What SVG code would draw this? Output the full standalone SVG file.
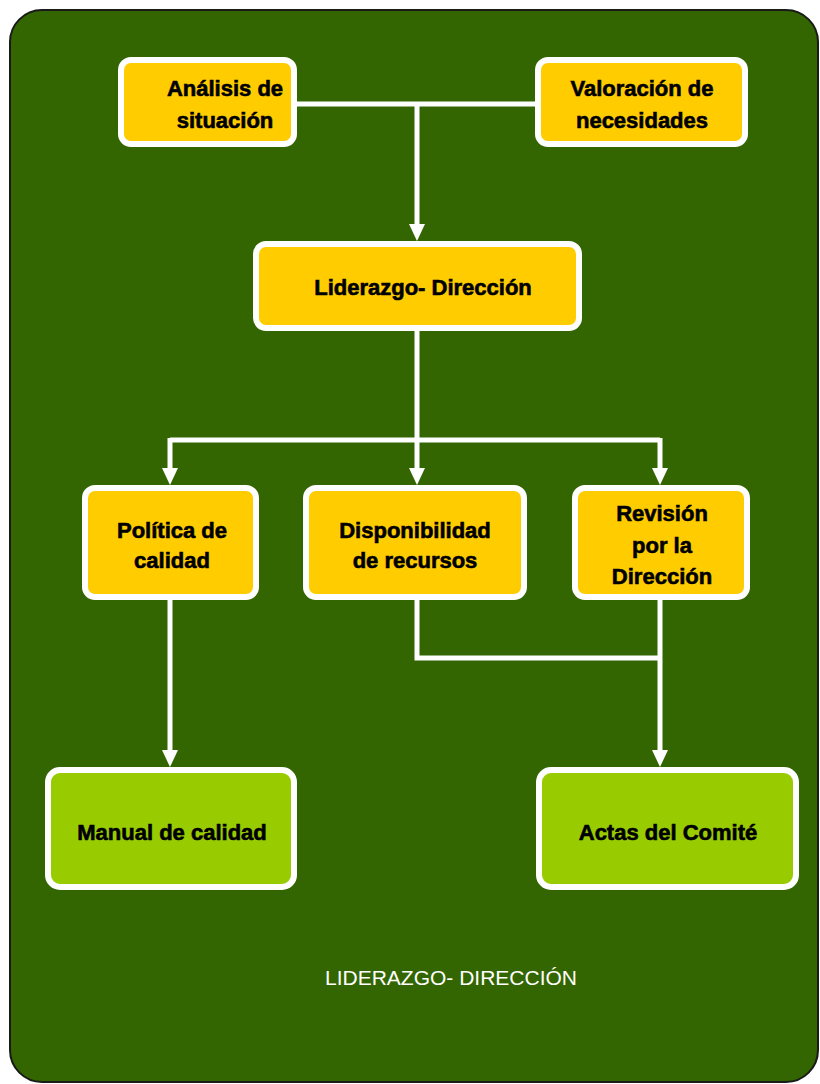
<svg xmlns="http://www.w3.org/2000/svg" width="820" height="1084" viewBox="0 0 820 1084">
<style>
.yel{fill:#FFCC00;stroke:#FFFFFF;stroke-width:6}
.grn{fill:#99CC00;stroke:#FFFFFF;stroke-width:6}
.lbl{font-family:"Liberation Sans",Arial,sans-serif;font-weight:bold;font-size:22px;fill:#000;stroke:#000;stroke-width:0.6;text-anchor:middle}
.con{fill:none;stroke:#FFFFFF;stroke-width:5}
</style>
<defs>
<marker id="ah" markerWidth="18" markerHeight="18" refX="10" refY="9" orient="auto" markerUnits="userSpaceOnUse">
<path d="M0,1 L17,9 L0,17 z" fill="#FFFFFF"/>
</marker>
</defs>
<rect x="10" y="10" width="808" height="1072" rx="32" ry="32" fill="#336600" stroke="#1a1a1a" stroke-width="2"/>
<g id="connectors">
<path class="con" d="M297,104 L535,104"/>
<path class="con" d="M417,104 L417,234" marker-end="url(#ah)"/>
<path class="con" d="M417,331 L417,440"/>
<path class="con" d="M170,440 L660,440"/>
<path class="con" d="M170,438 L170,478" marker-end="url(#ah)"/>
<path class="con" d="M417,440 L417,478" marker-end="url(#ah)"/>
<path class="con" d="M660,438 L660,478" marker-end="url(#ah)"/>
<path class="con" d="M170,600 L170,760" marker-end="url(#ah)"/>
<path class="con" d="M417,600 L417,658 L660,658"/>
<path class="con" d="M660,600 L660,760" marker-end="url(#ah)"/>
</g>
<g id="analisis">
<rect class="yel" x="121" y="60" width="173" height="84" rx="10"/>
<text class="lbl" x="225" y="96">Análisis de</text>
<text class="lbl" x="225" y="128">situación</text>
</g>
<g id="valoracion">
<rect class="yel" x="538" y="60" width="207" height="84" rx="10"/>
<text class="lbl" x="642" y="96">Valoración de</text>
<text class="lbl" x="642" y="128">necesidades</text>
</g>
<g id="liderazgo">
<rect class="yel" x="256" y="244" width="323" height="84" rx="10"/>
<text class="lbl" x="423" y="295">Liderazgo- Dirección</text>
</g>
<g id="politica">
<rect class="yel" x="85" y="488" width="171" height="109" rx="10"/>
<text class="lbl" x="172" y="538">Política de</text>
<text class="lbl" x="172" y="568">calidad</text>
</g>
<g id="disponibilidad">
<rect class="yel" x="306" y="488" width="218" height="109" rx="10"/>
<text class="lbl" x="415" y="538">Disponibilidad</text>
<text class="lbl" x="415" y="568">de recursos</text>
</g>
<g id="revision">
<rect class="yel" x="575" y="488" width="172" height="109" rx="10"/>
<text class="lbl" x="662" y="521">Revisión</text>
<text class="lbl" x="662" y="553">por la</text>
<text class="lbl" x="662" y="584">Dirección</text>
</g>
<g id="manual">
<rect class="grn" x="48" y="770" width="246" height="117" rx="12"/>
<text class="lbl" x="172" y="840">Manual de calidad</text>
</g>
<g id="actas">
<rect class="grn" x="539" y="770" width="257" height="117" rx="12"/>
<text class="lbl" x="668" y="840">Actas del Comité</text>
</g>
<text x="451" y="985" font-family="Liberation Sans,Arial,sans-serif" font-size="21" fill="#FFFFFF" text-anchor="middle">LIDERAZGO- DIRECCIÓN</text>
</svg>
